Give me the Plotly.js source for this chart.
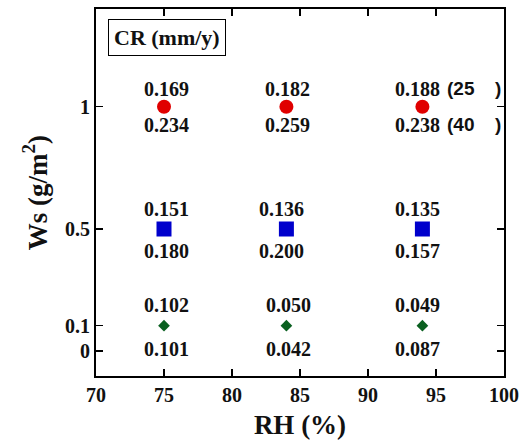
<!DOCTYPE html>
<html>
<head>
<meta charset="utf-8">
<script src="https://cdn.plot.ly/plotly-3.0.1.min.js"></script>
<style>html,body{margin:0;padding:0;background:#fff;}#chart{width:532px;height:440px;}</style>
</head>
<body>
<div id="chart"></div>
<script>
// Relative humidity (%) of each test
const rh = [75, 84, 94];
// Ws levels (g/m2) used as series
const wsLevels = [1, 0.5, 0.1];
// Y axis tick labels and their placement on the (non-linear) drawn axis
const wsTickLabels = ['0', '0.1', '0.5', '1'];
const wsTickPos = [0, 0.255, 1.224, 2.45];
// X axis ticks
const rhTicks = [70, 75, 80, 85, 90, 95, 100];
// Corrosion rate CR (mm/y) at 25 and 40 (upper / lower labels)
const cr25_ws1 = ['0.169', '0.182', '0.188'];
const cr40_ws1 = ['0.234', '0.259', '0.238'];
const cr25_ws05 = ['0.151', '0.136', '0.135'];
const cr40_ws05 = ['0.180', '0.200', '0.157'];
const cr25_ws01 = ['0.102', '0.050', '0.049'];
const cr40_ws01 = ['0.101', '0.042', '0.087'];
const tempLabels = ['(25', '(40'];

function posOf(ws) { return wsTickPos[wsTickLabels.indexOf(String(ws))]; }

const SERIF = 'Liberation Serif, Times New Roman, serif';
const SANS = 'Liberation Sans, Arial, sans-serif';

const series = [
  {ws: wsLevels[0], up: cr25_ws1, lo: cr40_ws1, color: '#e00000', symbol: 'circle', size: 14, upShift: 18, loShift: 18, xs: [2, 1, -5]},
  {ws: wsLevels[1], up: cr25_ws05, lo: cr40_ws05, color: '#0000cc', symbol: 'square', size: 15, upShift: 20, loShift: 22, xs: [2, -5, -5]},
  {ws: wsLevels[2], up: cr25_ws01, lo: cr40_ws01, color: '#0a6020', symbol: 'diamond', size: 9, upShift: 21, loShift: 23, xs: [2, 2, -5]}
];

const valFont = {family: SERIF, size: 20, color: '#111', weight: 'bold'};
const traces = [];
const annotations = [];
series.forEach(s => {
  const yv = rh.map(() => posOf(s.ws));
  traces.push({
    type: 'scatter', mode: 'markers', x: rh, y: yv,
    marker: {symbol: s.symbol, size: s.size, color: s.color, line: {width: 0}},
    showlegend: false, hoverinfo: 'skip', cliponaxis: false
  });
  rh.forEach((x, i) => {
    annotations.push({x: x, y: yv[i], xref: 'x', yref: 'y', text: '<b>' + s.up[i] + '</b>', showarrow: false, yshift: s.upShift, xshift: s.xs[i], font: valFont});
    annotations.push({x: x, y: yv[i], xref: 'x', yref: 'y', text: '<b>' + s.lo[i] + '</b>', showarrow: false, yshift: -s.loShift, xshift: s.xs[i], font: valFont});
  });
});

// temperature notes next to the last red marker
const sansFont = {family: SANS, size: 19, color: '#111', weight: 'bold'};
const lastX = rh[rh.length - 1];
const redY = posOf(wsLevels[0]);
[[tempLabels[0], 18], [tempLabels[1], -18]].forEach(([t, sh]) => {
  annotations.push({x: lastX, y: redY, xref: 'x', yref: 'y', text: '<b>' + t + '</b>', showarrow: false, xanchor: 'left', xshift: 23, yshift: sh, font: sansFont});
  annotations.push({x: lastX, y: redY, xref: 'x', yref: 'y', text: '<b>)</b>', showarrow: false, xanchor: 'left', xshift: 71, yshift: sh, font: sansFont});
});

// CR (mm/y) label box
annotations.push({
  x: 0.029, y: 0.921, xref: 'paper', yref: 'paper', xanchor: 'left', yanchor: 'middle',
  text: '<b>CR (mm/y)</b>', showarrow: false, bordercolor: '#000', borderwidth: 1, borderpad: 5,
  font: {family: SERIF, size: 22, color: '#111', weight: 'bold'}
});

const axisFont = {family: SERIF, size: 20, color: '#111', weight: 'bold'};
const titleFont = {family: SERIF, size: 27, color: '#111', weight: 'bold'};

// Y axis title as rotated annotation centred on the plot height
annotations.push({
  x: -0.15, y: 0.5, xref: 'paper', yref: 'paper', xanchor: 'center', yanchor: 'middle',
  text: '<b>Ws (g/m<sup>2</sup>)</b>', textangle: -90, showarrow: false, font: titleFont
});

const layout = {
  width: 532, height: 440,
  margin: {l: 96, r: 28, t: 9, b: 64},
  paper_bgcolor: '#fff', plot_bgcolor: '#fff',
  xaxis: {
    range: [70, 100], tickvals: rhTicks, ticktext: rhTicks.map(v => '<b>' + v + '</b>'),
    ticks: 'inside', ticklen: 7, tickwidth: 1.5, tickcolor: '#000',
    showline: true, linewidth: 2, linecolor: '#000', mirror: 'ticks',
    showgrid: false, zeroline: false, tickfont: axisFont,
    title: {text: '<b>RH (%)</b>', font: titleFont, standoff: 15}
  },
  yaxis: {
    range: [-0.25, 3.43], tickvals: wsTickPos, ticktext: wsTickLabels.map(v => '<b>' + v + '</b>'),
    ticks: 'inside', ticklen: 7, tickwidth: 1.5, tickcolor: '#000',
    showline: true, linewidth: 2, linecolor: '#000', mirror: 'ticks',
    showgrid: false, zeroline: false, tickfont: axisFont
  },
  annotations: annotations
};

Plotly.newPlot('chart', traces, layout, {staticPlot: true, displayModeBar: false});
</script>
</body>
</html>
